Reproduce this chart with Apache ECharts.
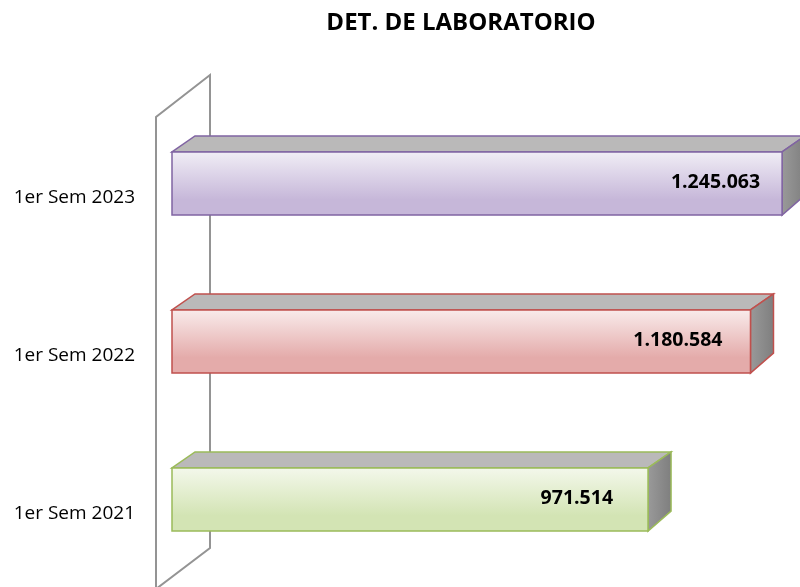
<!DOCTYPE html>
<html>
<head>
<meta charset="utf-8">
<script src="https://cdn.jsdelivr.net/npm/echarts@6/dist/echarts.min.js"></script>
<style>html,body{margin:0;padding:0;background:#fff}#c{width:800px;height:587px}</style>
</head>
<body>
<div id="c"></div>
<script>
const categories = ['1er Sem 2021', '1er Sem 2022', '1er Sem 2023'];
const values = [971514, 1180584, 1245063];
const labelTexts = ['971.514', '1.180.584', '1.245.063'];
const faceTop = ['#f4f8ec', '#f9ecec', '#f1eef6'];
const faceBottom = ['#d3e4b4', '#e4abaa', '#c6b7d9'];
const borders = ['#9bbb59', '#c0504d', '#8064a2'];
const labelInset = [35, 28, 22];

const chart = echarts.init(document.getElementById('c'));
const DX = 23, DY = -16;
const FONT = '"Open Sans", "Liberation Sans", sans-serif';

chart.setOption({
  animation: false,
  title: {
    text: 'DET. DE LABORATORIO', left: 456, top: 6, textAlign: 'center',
    textStyle: { fontFamily: FONT, fontWeight: 'bold', fontSize: 24, color: '#000' }
  },
  grid: { left: 172, top: 104.5, width: 612.5, height: 474 },
  xAxis: { type: 'value', min: 0, max: 1250000, show: false },
  yAxis: {
    type: 'category', data: categories,
    axisLine: { show: false }, axisTick: { show: false }, splitLine: { show: false },
    axisLabel: { fontFamily: FONT, fontSize: 19, color: '#000', margin: 37, verticalAlign: 'top', lineHeight: 28 }
  },
  graphic: [{
    type: 'polyline', z: -1, silent: true,
    shape: { points: [[156, 595], [156, 117], [210, 75], [210, 548], [156, 589]] },
    style: { stroke: '#949494', lineWidth: 2, fill: null }
  }],
  series: [{
    type: 'custom',
    data: values.map((v, i) => [i, v]),
    encode: { x: 1, y: 0 },
    renderItem: function (params, api) {
      const idx = api.value(0);
      const p0 = api.coord([0, idx]);
      const p1 = api.coord([api.value(1), idx]);
      const h = api.size([0, 1])[1] * 0.4;
      const x0 = p0[0], x1 = p1[0];
      const yt = p0[1] - h / 2, yb = p0[1] + h / 2;
      const bc = borders[idx];
      return {
        type: 'group',
        children: [
          {
            type: 'polygon',
            shape: { points: [[x0, yt], [x0 + DX, yt + DY], [x1 + DX, yt + DY], [x1, yt]] },
            style: { fill: '#bab9b9', stroke: bc, lineWidth: 1.5 }
          },
          {
            type: 'polygon',
            shape: { points: [[x1, yt], [x1 + DX, yt + DY], [x1 + DX, yb + DY - 4], [x1, yb]] },
            style: {
              fill: new echarts.graphic.LinearGradient(0, 0, 1, 0, [
                { offset: 0, color: '#9a9a9a' }, { offset: 1, color: '#7e7e7e' }
              ]),
              stroke: bc, lineWidth: 1.5
            }
          },
          {
            type: 'rect',
            shape: { x: x0, y: yt, width: x1 - x0, height: h },
            style: {
              fill: new echarts.graphic.LinearGradient(0, 0, 0, 1, [
                { offset: 0, color: faceTop[idx] },
                { offset: 0.75, color: faceBottom[idx] },
                { offset: 1, color: faceBottom[idx] }
              ]),
              stroke: bc, lineWidth: 1.5
            }
          },
          {
            type: 'text',
            style: {
              text: labelTexts[idx], x: x1 - labelInset[idx], y: p0[1] - 1,
              align: 'right', verticalAlign: 'middle',
              font: 'bold 19.5px ' + FONT, fill: '#000'
            }
          }
        ]
      };
    }
  }]
});
</script>
</body>
</html>
